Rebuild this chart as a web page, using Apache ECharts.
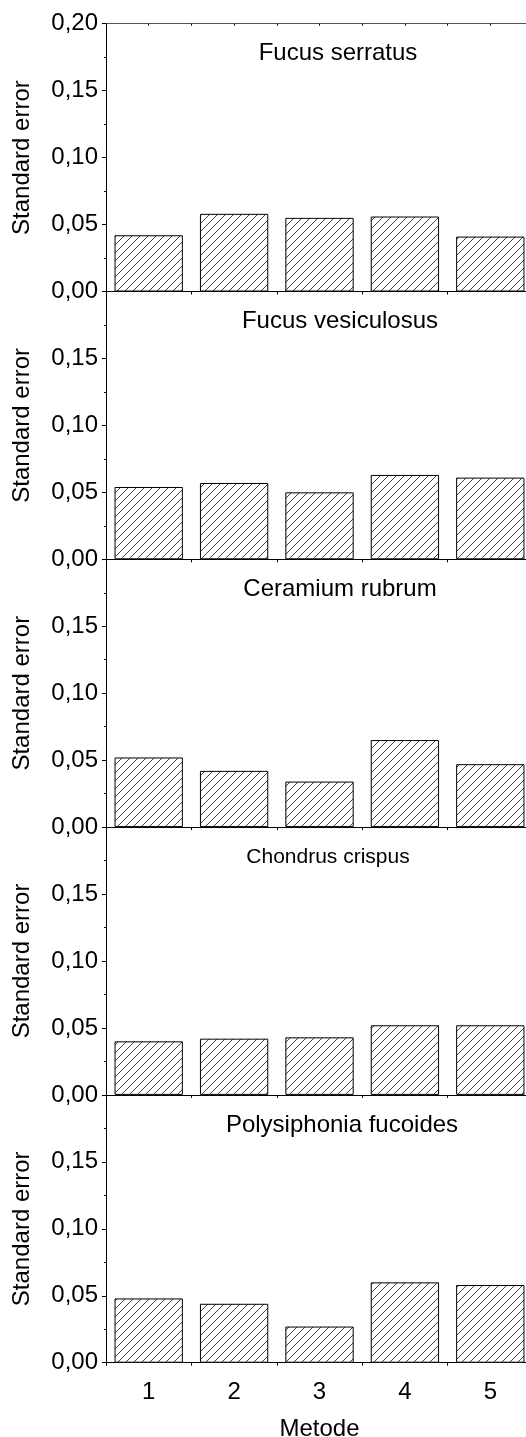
<!DOCTYPE html>
<html>
<head>
<meta charset="utf-8">
<script src="https://cdn.jsdelivr.net/npm/echarts@6/dist/echarts.min.js"></script>
<style>
html,body{margin:0;padding:0;background:#fff;}
#chart{width:526px;height:1437px;}
</style>
</head>
<body>
<div id="chart"></div>
<script>
const categories = ['1', '2', '3', '4', '5'];
const panelTitles = ['Fucus serratus', 'Fucus vesiculosus', 'Ceramium rubrum', 'Chondrus crispus', 'Polysiphonia fucoides'];
const fucusSerratus = [0.042, 0.058, 0.055, 0.056, 0.041];
const fucusVesiculosus = [0.054, 0.057, 0.050, 0.063, 0.061];
const ceramiumRubrum = [0.052, 0.042, 0.034, 0.065, 0.047];
const chondrusCrispus = [0.040, 0.042, 0.043, 0.052, 0.052];
const polysiphoniaFucoides = [0.048, 0.044, 0.027, 0.060, 0.058];
const yAxisTitle = 'Standard error';
const xAxisTitle = 'Metode';
const yMin = 0, yMax = 0.20, yStep = 0.05;

const panelData = [fucusSerratus, fucusVesiculosus, ceramiumRubrum, chondrusCrispus, polysiphoniaFucoides];

// hatch pattern
function makeHatch(size) {
  const c = document.createElement('canvas');
  c.width = size; c.height = size;
  const g = c.getContext('2d');
  g.fillStyle = '#fff';
  g.fillRect(0, 0, size, size);
  g.strokeStyle = '#111';
  g.lineWidth = 0.8;
  g.beginPath();
  g.moveTo(-1, size + 1); g.lineTo(size + 1, -1);
  g.moveTo(-1, 1); g.lineTo(1, -1);
  g.moveTo(size - 1, size + 1); g.lineTo(size + 1, size - 1);
  g.stroke();
  return c;
}
const hatch = makeHatch(8);

const FONT = 'Liberation Sans';
const TOP0 = 23.7;
const PH = 267.8;
const LEFT = 106;
const RIGHT = -7;
const titleCenters = [338, 340, 340, 328, 342];

const grids = [], xAxes = [], yAxes = [], series = [], titles = [];
panelData.forEach((vals, i) => {
  const top = TOP0 + i * PH;
  grids.push({ left: LEFT, right: RIGHT, top: top, height: PH, containLabel: false, outerBoundsMode: 'none' });
  const last = i === panelData.length - 1;
  xAxes.push({
    type: 'category', gridIndex: i, data: categories, position: 'bottom',
    boundaryGap: true,
    axisLine: { show: true, lineStyle: { color: '#000', width: 1 } },
    axisTick: { show: true, inside: false, length: 3, lineStyle: { color: '#000' } },
    axisLabel: { show: last, margin: 18, fontSize: 24, fontFamily: FONT, color: '#000' },
    name: last ? xAxisTitle : '', nameLocation: 'middle', nameGap: 55,
    nameTextStyle: { fontSize: 24, fontFamily: FONT, color: '#000' },
    splitLine: { show: false }
  });
  xAxes.push({
    type: 'value', gridIndex: i, position: 'top', min: 0, max: 5, interval: 0.5,
    axisLine: { show: i === 0, lineStyle: { color: '#555', width: 1 } },
    axisTick: { show: i === 0, inside: true, length: 2, lineStyle: { color: '#000' } },
    axisLabel: { show: false }, splitLine: { show: false }
  });
  yAxes.push({
    type: 'value', gridIndex: i, min: yMin, max: yMax, interval: yStep,
    axisLine: { show: true, lineStyle: { color: '#000', width: 1 } },
    axisTick: { show: true, inside: false, length: 4, lineStyle: { color: '#000' } },
    minorTick: { show: true, splitNumber: 2, length: 2, lineStyle: { color: '#000' } },
    axisLabel: {
      margin: 8, fontSize: 24, fontFamily: FONT, color: '#000',
      showMaxLabel: i === 0,
      formatter: v => v.toFixed(2).replace('.', ',')
    },
    splitLine: { show: false },
    name: yAxisTitle, nameLocation: 'middle', nameGap: 72,
    nameTextStyle: { fontSize: 24, fontFamily: FONT, color: '#000' }
  });
  series.push({
    type: 'bar', xAxisIndex: 2 * i, yAxisIndex: i, data: vals, barWidth: '80%',
    itemStyle: { color: { image: hatch, repeat: 'repeat' }, borderColor: '#000', borderWidth: 1 },
    animation: false
  });
  titles.push({
    text: panelTitles[i], left: titleCenters[i] - 5, top: top + (i === 3 ? 14.5 : 13), textAlign: 'center',
    textStyle: { fontSize: i === 3 ? 21 : 24, fontWeight: 'normal', fontFamily: FONT, color: '#000' }
  });
});

const chart = echarts.init(document.getElementById('chart'), null, { renderer: 'canvas' });
chart.setOption({
  backgroundColor: '#fff',
  animation: false,
  title: titles,
  grid: grids,
  xAxis: xAxes,
  yAxis: yAxes,
  series: series
});
</script>
</body>
</html>
